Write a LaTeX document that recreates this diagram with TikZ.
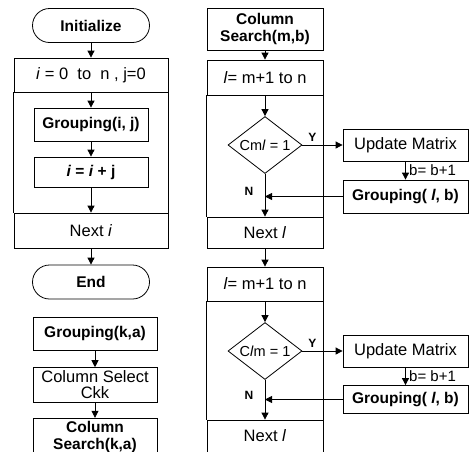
\documentclass[tikz,border=0pt]{standalone}
\usepackage{fontspec}
\setmainfont{Liberation Sans}
\usetikzlibrary{arrows.meta,shapes.geometric}

\tikzset{
	term/.style={draw, rounded corners=17pt, minimum width=117pt, minimum height=34pt, font=\bfseries\fontsize{15.5}{17}\selectfont},
	proc/.style={draw, align=center, font=\fontsize{16.5}{16}\selectfont},
	bproc/.style={draw, align=center, font=\bfseries\fontsize{15.5}{16.5}\selectfont},
	dec/.style={draw, diamond, aspect=1.3, inner sep=0pt, minimum width=74pt, minimum height=57pt, font=\fontsize{14.5}{16}\selectfont},
	arr/.style={-{Triangle[length=7pt,width=7pt]}},
	yn/.style={font=\bfseries\fontsize{12}{14}\selectfont},
	incr/.style={font=\fontsize{15}{16}\selectfont}
}

\begin{document}
\begin{tikzpicture}[x=1pt,y=-1pt,line width=0.8pt]
	\useasboundingbox (0,0) rectangle (476,451);

	\node[term] (init) at (91,25.5) {Initialize};
	\node[proc, minimum width=154pt, minimum height=34pt] (hdA) at (91,75) {\textit{i} = 0 \ to \ n , j=0};
	\node[bproc, minimum width=114pt, minimum height=33pt] (grpA) at (91,124.5) {Grouping(i, j)};
	\node[bproc, minimum width=114pt, minimum height=30pt] (incA) at (91,172) {\textit{i} = \textit{i} + j};
	\node[proc, minimum width=154pt, minimum height=35pt] (nxA) at (91,230.5) {Next \textit{i}};
	\draw (hdA.south west) -- (nxA.north west) (hdA.south east) -- (nxA.north east);
	\node[term] (endA) at (91,282) {End};
	\draw[arr] (init) -- (hdA);
	\draw[arr] (hdA) -- (grpA);
	\draw[arr] (grpA) -- (incA);
	\draw[arr] (incA) -- (nxA);
	\draw[arr] (nxA) -- (endA);

	\node[bproc, minimum width=124pt, minimum height=33pt] (grpK) at (95,334) {Grouping(k,a)};
	\node[proc, minimum width=124pt, minimum height=34pt] (selK) at (95,385) {Column Select\\Ckk};
	\node[bproc, minimum width=124pt, minimum height=34pt] (srchK) at (95,437) {Column\\Search(k,a)};
	\draw[arr] (grpK) -- (selK);
	\draw[arr] (selK) -- (srchK);

	\node[bproc, minimum width=116pt, minimum height=42pt] (srchM) at (265,29) {Column\\Search(m,b)};
	\node[proc, minimum width=116pt, minimum height=35pt] (hdB) at (265,77.5) {\textit{l}= m+1 to n};
	\node[dec] (decB) at (265,145) {Cm\textit{l} = 1};
	\node[proc, minimum width=125pt, minimum height=32pt] (updB) at (405.5,145) {Update Matrix};
	\node[bproc, minimum width=125pt, minimum height=33pt] (grpB) at (405.5,196.5) {Grouping( \textit{l}, b)};
	\node[proc, minimum width=116pt, minimum height=31pt] (nxB) at (265,232.5) {Next \textit{l}};
	\draw (hdB.south west) -- (nxB.north west) (hdB.south east) -- (nxB.north east);
	\coordinate (jB) at (decB.south |- grpB.west);
	\draw[arr] (srchM) -- (hdB);
	\draw[arr] (hdB) -- (decB);
	\draw[arr] (decB) -- node[yn, pos=0.25, above]{Y} (updB);
	\draw[arr] (updB) -- node[incr, right]{b= b+1} (grpB);
	\draw[arr] (grpB) -- (jB);
	\draw[arr] (decB) -- node[yn, pos=0.4, left=8pt]{N} (nxB);

	\node[proc, minimum width=116pt, minimum height=34pt] (hdC) at (265,284) {\textit{l}= m+1 to n};
	\node[dec] (decC) at (265,351) {C\textit{l}m = 1};
	\node[proc, minimum width=125pt, minimum height=32pt] (updC) at (405.5,351) {Update Matrix};
	\node[bproc, minimum width=125pt, minimum height=28pt] (grpC) at (405.5,399.5) {Grouping( \textit{l}, b)};
	\node[proc, minimum width=116pt, minimum height=32pt] (nxC) at (265,436) {Next \textit{l}};
	\draw (hdC.south west) -- (nxC.north west) (hdC.south east) -- (nxC.north east);
	\coordinate (jC) at (decC.south |- grpC.west);
	\draw[arr] (nxB) -- (hdC);
	\draw[arr] (hdC) -- (decC);
	\draw[arr] (decC) -- node[yn, pos=0.25, above]{Y} (updC);
	\draw[arr] (updC) -- node[incr, right]{b= b+1} (grpC);
	\draw[arr] (grpC) -- (jC);
	\draw[arr] (decC) -- node[yn, pos=0.4, left=8pt]{N} (nxC);
\end{tikzpicture}
\end{document}
